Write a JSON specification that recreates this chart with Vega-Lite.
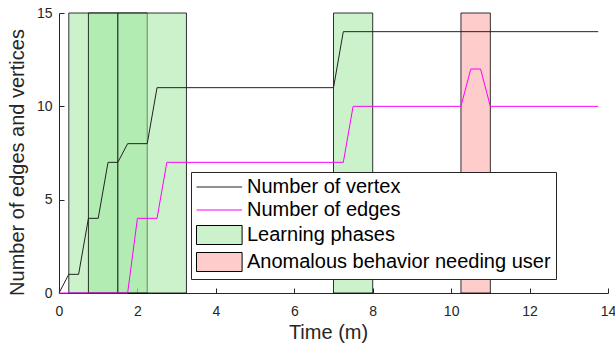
{
  "$schema": "https://vega.github.io/schema/vega-lite/v6.json",
  "width": 549,
  "height": 280,
  "autosize": "none",
  "padding": {"left": 59, "top": 13, "right": 7, "bottom": 52},
  "background": "white",
  "config": {
    "view": {"stroke": null},
    "font": "Liberation Sans",
    "axis": {
      "domainColor": "#262626",
      "tickColor": "#262626",
      "labelColor": "#262626",
      "titleColor": "#262626",
      "labelFont": "Liberation Sans",
      "titleFont": "Liberation Sans",
      "labelFontSize": 14,
      "titleFontSize": 20,
      "titleFontWeight": "normal",
      "grid": false,
      "tickSize": -5,
      "domainWidth": 1,
      "tickWidth": 1
    }
  },
  "datasets": {
    "lines": [
      {"series": "Number of vertex", "t": 0, "n": 0},
      {"series": "Number of vertex", "t": 0.25, "n": 1},
      {"series": "Number of vertex", "t": 0.5, "n": 1},
      {"series": "Number of vertex", "t": 0.75, "n": 4},
      {"series": "Number of vertex", "t": 1.0, "n": 4},
      {"series": "Number of vertex", "t": 1.25, "n": 7},
      {"series": "Number of vertex", "t": 1.5, "n": 7},
      {"series": "Number of vertex", "t": 1.75, "n": 8},
      {"series": "Number of vertex", "t": 2.25, "n": 8},
      {"series": "Number of vertex", "t": 2.5, "n": 11},
      {"series": "Number of vertex", "t": 7.0, "n": 11},
      {"series": "Number of vertex", "t": 7.25, "n": 14},
      {"series": "Number of vertex", "t": 13.75, "n": 14},
      {"series": "Number of edges", "t": 0, "n": 0},
      {"series": "Number of edges", "t": 1.75, "n": 0},
      {"series": "Number of edges", "t": 2.0, "n": 4},
      {"series": "Number of edges", "t": 2.5, "n": 4},
      {"series": "Number of edges", "t": 2.75, "n": 7},
      {"series": "Number of edges", "t": 7.25, "n": 7},
      {"series": "Number of edges", "t": 7.5, "n": 10},
      {"series": "Number of edges", "t": 10.25, "n": 10},
      {"series": "Number of edges", "t": 10.5, "n": 12},
      {"series": "Number of edges", "t": 10.75, "n": 12},
      {"series": "Number of edges", "t": 11.0, "n": 10},
      {"series": "Number of edges", "t": 13.75, "n": 10}
    ],
    "phases": [
      {"series": "Learning phases", "start": 0.25, "end": 1.5},
      {"series": "Learning phases", "start": 0.75, "end": 2.25},
      {"series": "Learning phases", "start": 1.5, "end": 3.25},
      {"series": "Learning phases", "start": 7.0, "end": 8.0},
      {"series": "Anomalous behavior needing user", "start": 10.25, "end": 11.0}
    ]
  },
  "layer": [
    {
      "data": {"name": "phases"},
      "mark": {"type": "rect", "fillOpacity": 0.5, "stroke": "#000000", "strokeWidth": 1, "strokeOpacity": 0.8},
      "encoding": {
        "x": {"field": "start", "type": "quantitative"},
        "x2": {"field": "end"},
        "y": {"datum": 0, "type": "quantitative"},
        "y2": {"datum": 15},
        "fill": {
          "field": "series", "type": "nominal",
          "scale": {"domain": ["Learning phases", "Anomalous behavior needing user"], "range": ["#99e699", "#ff9999"]},
          "legend": null
        }
      }
    },
    {
      "data": {"name": "lines"},
      "mark": {"type": "line", "strokeWidth": 1},
      "encoding": {
        "x": {
          "field": "t", "type": "quantitative",
          "scale": {"domain": [0, 14], "nice": false, "zero": false},
          "axis": {"values": [0, 2, 4, 6, 8, 10, 12, 14], "title": "Time (m)", "labelPadding": 16, "titleX": 269, "titleY": 45, "titleBaseline": "alphabetic", "titleAnchor": null, "labelFlush": false}
        },
        "y": {
          "field": "n", "type": "quantitative",
          "scale": {"domain": [0, 15], "nice": false},
          "axis": {"values": [0, 5, 10, 15], "title": "Number of edges and vertices", "labelPadding": 12, "titleX": -36, "titleY": 149, "titleBaseline": "alphabetic", "titleAngle": 270, "titleAlign": "center", "labelFlush": false}
        },
        "stroke": {
          "field": "series", "type": "nominal",
          "scale": {"domain": ["Number of vertex", "Number of edges"], "range": ["#222222", "#ff00ff"]},
          "legend": null
        }
      }
    },
    {
      "data": {"name": "phases"},
      "mark": {
        "type": "point",
        "opacity": 0,
        "filled": true,
        "strokeWidth": 1,
        "fill": {"expr": "datum.value == 'Learning phases' ? '#ccf2cc' : (datum.value == 'Anomalous behavior needing user' ? '#ffcccc' : 'transparent')"},
        "stroke": {"expr": "datum.value == 'Number of vertex' ? '#222222' : (datum.value == 'Number of edges' ? '#ff00ff' : '#000000')"}
      },
      "encoding": {
        "x": {"field": "start", "type": "quantitative"},
        "y": {"datum": 0, "type": "quantitative"},
        "shape": {
          "field": "series", "type": "nominal",
          "scale": {
            "domain": ["Number of vertex", "Number of edges", "Learning phases", "Anomalous behavior needing user"],
            "range": ["M-1,0H3.8", "M-1,0H3.8", "M-1,-1H3.8V1H-1Z", "M-1,-1H3.8V1H-1Z"]
          },
          "legend": {
            "title": null,
            "orient": "none",
            "legendX": 132,
            "legendY": 159,
            "padding": 5,
            "strokeColor": "#262626",
            "fillColor": "white",
            "labelFont": "Liberation Sans",
            "labelFontSize": 20,
            "labelColor": "#000000",
            "labelLimit": 500,
            "labelOffset": 31,
            "rowPadding": 3,
            "symbolSize": 361,
            "symbolStrokeWidth": 1,
            "encode": {
              "symbols": {
                "update": {
                  "fill": {"signal": "datum.value == 'Learning phases' ? '#ccf2cc' : (datum.value == 'Anomalous behavior needing user' ? '#ffcccc' : 'transparent')"},
                  "stroke": {"signal": "datum.value == 'Number of vertex' ? '#222222' : (datum.value == 'Number of edges' ? '#ff00ff' : '#000000')"},
                  "fillOpacity": {"value": 1},
                  "strokeOpacity": {"value": 1},
                  "strokeWidth": {"value": 1},
                  "opacity": {"value": 1}
                }
              }
            }
          }
        }
      }
    }
  ]
}
